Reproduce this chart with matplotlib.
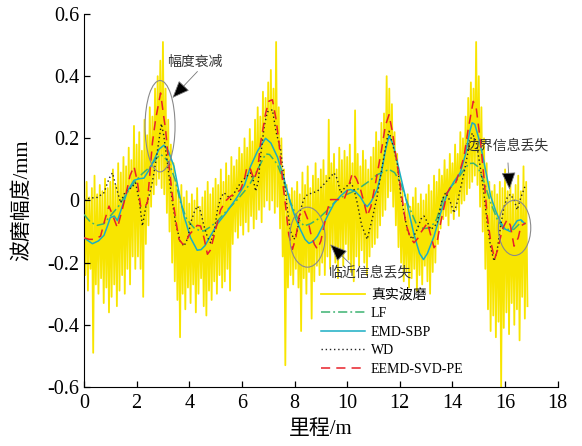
import matplotlib
matplotlib.use("Agg")
import matplotlib.pyplot as plt
from matplotlib.patches import Ellipse
import numpy as np

# true corrugation: upper / lower sample excursions read every 0.1 m
dist = np.round(np.arange(0, 16.81, 0.1), 2)
true_hi = [0.03, 0.06, 0.01, 0.04, 0.08, 0.02, 0.05, 0.03, 0.07, 0.04,
           0.06, 0.10, 0.05, 0.12, 0.09, 0.14, 0.11, 0.17, 0.13, 0.24,
           0.18, 0.22, 0.16, 0.26, 0.21, 0.30, 0.27, 0.36, 0.40, 0.45,
           0.51, 0.36, 0.26, 0.18, 0.12, 0.07, 0.03, 0.05, 0.01, 0.03,
           -0.01, 0.02, 0.00, 0.04, -0.02, 0.01, 0.03, 0.06, 0.02, 0.04,
           0.07, 0.05, 0.10, 0.06, 0.12, 0.08, 0.14, 0.11, 0.13, 0.17,
           0.15, 0.20, 0.17, 0.23, 0.19, 0.26, 0.30, 0.27, 0.35, 0.33,
           0.38, 0.42, 0.36, 0.51, 0.30, 0.20, 0.10, 0.05, 0.02, 0.04,
           0.03, 0.06, 0.02, 0.09, 0.05, 0.11, 0.04, 0.08, 0.12, 0.07,
           0.10, 0.13, 0.08, 0.26, 0.12, 0.15, 0.10, 0.17, 0.13, 0.16,
           0.14, 0.18, 0.12, 0.29, 0.15, 0.11, 0.16, 0.13, 0.10, 0.14,
           0.17, 0.22, 0.19, 0.25, 0.28, 0.40, 0.36, 0.31, 0.22, 0.15,
           0.08, 0.03, -0.01, 0.02, -0.02, 0.01, 0.04, -0.01, 0.02, 0.00,
           0.02, 0.05, 0.03, 0.08, 0.06, 0.10, 0.08, 0.13, 0.10, 0.15,
           0.12, 0.18, 0.15, 0.22, 0.20, 0.27, 0.33, 0.38, 0.36, 0.51,
           0.40, 0.30, 0.20, 0.12, 0.06, 0.03, 0.05, 0.02, 0.06, 0.04,
           0.10, 0.03, 0.06, 0.02, 0.05, 0.08, 0.03, 0.11, 0.06]
true_lo = [-0.24, -0.29, -0.22, -0.49, -0.27, -0.30, -0.25, -0.33, -0.28, -0.36,
           -0.31, -0.27, -0.34, -0.29, -0.24, -0.30, -0.22, -0.27, -0.18, -0.22,
           -0.18, -0.22, -0.31, -0.14, -0.08, -0.02, 0.02, 0.05, 0.07, 0.04,
           0.02, -0.04, -0.10, -0.20, -0.26, -0.32, -0.44, -0.30, -0.35, -0.28,
           -0.33, -0.27, -0.36, -0.30, -0.25, -0.34, -0.37, -0.29, -0.32, -0.26,
           -0.30, -0.24, -0.28, -0.26, -0.22, -0.29, -0.14, -0.10, -0.12, -0.08,
           -0.11, -0.07, -0.10, -0.05, -0.09, -0.06, -0.03, -0.07, -0.02, 0.00,
           -0.03, 0.00, -0.04, -0.02, -0.09, -0.18, -0.53, -0.28, -0.24, -0.27,
           -0.22, -0.28, -0.42, -0.25, -0.30, -0.23, -0.38, -0.26, -0.21, -0.24,
           -0.20, -0.24, -0.18, -0.22, -0.15, -0.20, -0.25, -0.17, -0.21, -0.14,
           -0.19, -0.23, -0.26, -0.18, -0.21, -0.16, -0.20, -0.24, -0.18, -0.15,
           -0.14, -0.12, -0.08, -0.05, -0.03, 0.01, 0.03, -0.02, -0.08, -0.15,
           -0.20, -0.26, -0.23, -0.28, -0.25, -0.22, -0.29, -0.24, -0.27, -0.21,
           -0.26, -0.30, -0.23, -0.20, -0.14, -0.09, -0.06, -0.05, -0.08, -0.04,
           -0.06, -0.03, -0.05, -0.01, 0.00, 0.02, 0.04, 0.06, 0.08, 0.05,
           -0.02, -0.10, -0.22, -0.35, -0.42, -0.37, -0.44, -0.39, -0.60, -0.41,
           -0.36, -0.43, -0.33, -0.40, -0.35, -0.45, -0.31, -0.38, -0.34]

lf_x = [0.0, 0.25, 0.5, 0.75, 1.0, 1.3, 1.6, 1.9, 2.2, 2.53, 2.75, 2.91, 3.05, 3.23, 3.45,
        3.67, 3.9, 4.18, 4.4, 4.56, 4.8, 5.07, 5.4, 5.83, 6.1, 6.33, 6.6, 6.9, 7.05, 7.35,
        7.6, 7.85, 8.1, 8.36, 8.6, 8.87, 9.2, 9.62, 10.0, 10.38, 10.8, 11.14, 11.59, 11.8,
        12.03, 12.3, 12.66, 12.9, 13.17, 13.4, 13.68, 13.95, 14.18, 14.4, 14.63, 14.8,
        14.95, 15.2, 15.45, 15.7, 15.96, 16.33, 16.72]
lf_y = [-0.045, -0.07, -0.08, -0.075, -0.05, -0.02, 0.02, 0.057, 0.085, 0.11, 0.135, 0.148,
        0.14, 0.121, 0.07, -0.007, -0.06, -0.088, -0.097, -0.098, -0.085, -0.066, -0.035,
        0.003, 0.03, 0.057, 0.1, 0.15, 0.148, 0.116, 0.06, -0.007, -0.055, -0.082, -0.075,
        -0.061, -0.035, 0.003, 0.02, 0.035, 0.06, 0.083, 0.1, 0.09, 0.057, -0.01, -0.082,
        -0.09, -0.088, -0.06, 0.014, 0.045, 0.067, 0.095, 0.119, 0.12, 0.11, 0.06, -0.007,
        -0.06, -0.093, -0.093, -0.061]

emd_x = [0.0, 0.32, 0.55, 0.76, 0.9, 1.0, 1.15, 1.27, 1.45, 1.65, 1.9, 2.1, 2.28, 2.45, 2.66,
         2.85, 3.04, 3.2, 3.42, 3.6, 3.8, 4.05, 4.3, 4.45, 4.6, 4.8, 5.07, 5.4, 5.83, 6.1,
         6.33, 6.6, 6.9, 7.1, 7.35, 7.6, 7.85, 8.05, 8.23, 8.4, 8.55, 8.7, 8.87, 9.05, 9.25,
         9.5, 9.75, 10.0, 10.13, 10.3, 10.5, 10.65, 10.76, 10.9, 11.14, 11.3, 11.45, 11.59,
         11.75, 12.03, 12.3, 12.54, 12.75, 12.9, 13.05, 13.3, 13.55, 13.8, 14.05, 14.3, 14.5,
         14.65, 14.75, 14.85, 15.0, 15.13, 15.3, 15.45, 15.65, 15.83, 16.0, 16.2, 16.3,
         16.46, 16.6, 16.75]
emd_y = [-0.12, -0.139, -0.13, -0.112, -0.08, -0.055, -0.05, -0.065, -0.02, 0.03, 0.065,
         0.07, 0.072, 0.095, 0.13, 0.165, 0.178, 0.16, 0.11, 0.03, -0.05, -0.12, -0.16,
         -0.158, -0.145, -0.115, -0.075, -0.04, 0.012, 0.05, 0.11, 0.16, 0.2, 0.185, 0.14,
         0.07, -0.01, -0.06, -0.095, -0.125, -0.138, -0.132, -0.115, -0.085, -0.05, -0.01,
         0.015, 0.033, 0.035, 0.03, 0.012, -0.01, -0.02, -0.005, 0.035, 0.09, 0.16, 0.208,
         0.18, 0.078, -0.02, -0.11, -0.17, -0.19, -0.17, -0.115, -0.04, 0.022, 0.06, 0.09,
         0.15, 0.22, 0.25, 0.245, 0.2, 0.152, 0.08, 0.014, -0.035, -0.07, -0.092, -0.1,
         -0.085, -0.065, -0.062, -0.075]

wd_x = [0.0, 0.25, 0.51, 0.76, 0.95, 1.08, 1.2, 1.39, 1.52, 1.65, 1.8, 1.96, 2.1, 2.22, 2.35,
        2.47, 2.6, 2.72, 2.86, 2.94, 3.03, 3.17, 3.3, 3.48, 3.65, 3.8, 3.95, 4.05, 4.2, 4.31,
        4.43, 4.56, 4.7, 4.81, 4.95, 5.07, 5.2, 5.32, 5.45, 5.57, 5.75, 5.95, 6.15, 6.33,
        6.45, 6.52, 6.62, 6.71, 6.85, 6.97, 7.16, 7.3, 7.47, 7.6, 7.73, 7.85, 7.98, 8.1,
        8.23, 8.35, 8.49, 8.7, 8.87, 9.2, 9.5, 9.62, 9.75, 9.9, 10.13, 10.25, 10.38, 10.55,
        10.76, 10.95, 11.14, 11.35, 11.52, 11.59, 11.7, 11.9, 12.03, 12.16, 12.3, 12.47,
        12.66, 12.8, 12.92, 13.05, 13.17, 13.3, 13.42, 13.6, 13.74, 13.9, 14.06, 14.2,
        14.44, 14.6, 14.75, 14.9, 15.07, 15.2, 15.32, 15.45, 15.58, 15.7, 15.83, 15.96,
        16.08, 16.2, 16.35, 16.46, 16.6, 16.78]
wd_y = [0.003, 0.008, 0.01, 0.025, 0.07, 0.089, 0.05, -0.007, 0.02, 0.035, 0.04, 0.057, 0.0,
        -0.082, -0.02, 0.014, 0.06, 0.12, 0.2, 0.247, 0.21, 0.121, 0.03, -0.072, -0.13,
        -0.147, -0.12, -0.072, -0.035, -0.018, -0.035, -0.082, -0.12, -0.136, -0.1, -0.03,
        0.01, 0.025, 0.015, 0.003, 0.03, 0.057, 0.075, 0.089, 0.06, 0.03, 0.06, 0.142, 0.24,
        0.285, 0.292, 0.22, 0.164, 0.07, -0.03, -0.1, -0.125, -0.1, -0.03, 0.005, 0.019,
        0.025, 0.03, 0.06, 0.089, 0.07, 0.025, 0.04, 0.057, 0.04, -0.007, -0.08, -0.125,
        -0.06, 0.014, 0.12, 0.2, 0.223, 0.19, 0.12, 0.02, -0.04, -0.1, -0.125, -0.093,
        -0.06, -0.05, -0.07, -0.093, -0.085, -0.072, 0.0, 0.025, 0.0, -0.04, 0.0, 0.089,
        0.16, 0.217, 0.19, 0.1, 0.02, -0.072, -0.15, -0.195, -0.16, -0.082, -0.02, 0.009,
        0.02, 0.0, -0.03, 0.01, 0.051]

ee_x = [0.0, 0.2, 0.38, 0.63, 0.8, 0.95, 1.1, 1.27, 1.42, 1.58, 1.75, 1.9, 2.03, 2.15, 2.28,
        2.41, 2.6, 2.72, 2.91, 3.03, 3.1, 3.22, 3.36, 3.5, 3.61, 3.75, 3.86, 4.0, 4.18, 4.3,
        4.43, 4.56, 4.69, 4.8, 4.94, 5.19, 5.4, 5.57, 5.8, 5.95, 6.1, 6.2, 6.33, 6.46, 6.6,
        6.71, 6.9, 7.03, 7.16, 7.3, 7.41, 7.55, 7.66, 7.78, 7.92, 8.05, 8.17, 8.36, 8.5,
        8.61, 8.75, 8.87, 9.0, 9.12, 9.25, 9.37, 9.62, 9.88, 10.0, 10.2, 10.35, 10.51,
        10.65, 10.76, 10.9, 11.08, 11.3, 11.45, 11.59, 11.72, 11.91, 12.1, 12.22, 12.4,
        12.54, 12.7, 12.79, 13.05, 13.17, 13.3, 13.4, 13.55, 13.8, 13.95, 14.12, 14.3,
        14.44, 14.6, 14.79, 14.9, 15.07, 15.2, 15.32, 15.45, 15.6, 15.75, 15.89, 16.08,
        16.2, 16.34, 16.5, 16.6, 16.78]
ee_y = [-0.12, -0.125, -0.125, -0.115, -0.06, -0.018, -0.05, -0.088, -0.04, 0.014, 0.08,
        0.11, 0.06, -0.018, -0.025, -0.007, 0.185, 0.26, 0.346, 0.27, 0.228, 0.12, 0.014,
        -0.07, -0.125, -0.14, -0.136, -0.11, -0.093, -0.08, -0.082, -0.12, -0.173, -0.16,
        -0.115, -0.03, 0.0, 0.014, 0.025, 0.035, 0.07, 0.11, 0.1, 0.067, 0.1, 0.185, 0.28,
        0.32, 0.324, 0.26, 0.185, 0.06, -0.018, -0.11, -0.157, -0.12, -0.05, -0.03, -0.06,
        -0.104, -0.14, -0.157, -0.13, -0.082, -0.03, 0.003, 0.003, 0.003, 0.03, 0.089, 0.07,
        0.035, -0.01, -0.05, -0.02, 0.057, 0.16, 0.24, 0.276, 0.22, 0.11, 0.0, -0.072,
        -0.12, -0.136, -0.12, -0.104, -0.072, -0.11, -0.152, -0.14, -0.072, 0.025, 0.045,
        0.057, 0.1, 0.142, 0.23, 0.319, 0.3, 0.185, 0.07, -0.05, -0.13, -0.189, -0.15,
        -0.093, -0.061, -0.08, -0.147, -0.12, -0.082, -0.072]

labels = ['真实波磨', 'LF', 'EMD-SBP', 'WD', 'EEMD-SVD-PE']
xticks = [0, 2, 4, 6, 8, 10, 12, 14, 16, 18]
yticks = [-0.6, -0.4, -0.2, 0, 0.2, 0.4, 0.6]
ytick_labels = ['-0.6', '-0.4', '-0.2', '0', '0.2', '0.4', '0.6']

serif_cjk = ['Liberation Serif', 'Noto Sans CJK SC']
plt.rcParams['font.family'] = serif_cjk

fig = plt.figure(figsize=(5.82, 4.46), dpi=100)
ax = fig.add_axes([0.1443, 0.1323, 0.814, 0.8363])

# interleave peaks and troughs of the measured signal
yel_x = np.ravel(np.column_stack([dist, dist + 0.05]))
yel_y = np.ravel(np.column_stack([true_hi, true_lo]))

l_true, = ax.plot(yel_x, yel_y, color='#f8e500', lw=1.3, zorder=1)
l_lf, = ax.plot(lf_x, lf_y, color='#3cb371', lw=1.1, ls=(0, (6, 2, 1.2, 2)), zorder=3)
l_emd, = ax.plot(emd_x, emd_y, color='#1aaec4', lw=1.1, zorder=4)
l_wd, = ax.plot(wd_x, wd_y, color='#222222', lw=1.0, ls=(0, (1, 2)), zorder=5)
l_ee, = ax.plot(ee_x, ee_y, color='#e8202a', lw=1.1, ls=(0, (6, 4)), zorder=6)

# annotations
for cx, cy, w, h in [(2.89, 0.239, 1.14, 0.294), (8.49, -0.118, 1.34, 0.193),
                     (16.36, -0.088, 1.23, 0.178)]:
    ax.add_patch(Ellipse((cx, cy), w, h, fill=False, ec='#8a8a8a', lw=0.8, zorder=7))

arrow = dict(arrowstyle='-|>,head_length=1.1,head_width=0.45', ec='#777777',
             fc='black', lw=0.6, shrinkA=0, shrinkB=0)
ax.annotate('', xy=(3.36, 0.33), xytext=(4.31, 0.415), arrowprops=arrow, zorder=8)
ax.annotate('', xy=(9.35, -0.141), xytext=(10.13, -0.205), arrowprops=arrow, zorder=8)
ax.annotate('', xy=(16.17, 0.035), xytext=(16.11, 0.121), arrowprops=arrow, zorder=8)
ax.text(3.15, 0.446, '幅度衰减', fontsize=10, color='#333333', ha='left', va='center',
        family=['Noto Sans CJK SC'])
ax.text(9.31, -0.232, '临近信息丢失', fontsize=10, color='#333333', ha='left', va='center',
        family=['Noto Sans CJK SC'])
ax.text(14.5, 0.177, '边界信息丢失', fontsize=10, color='#333333', ha='left', va='center',
        family=['Noto Sans CJK SC'])

ax.set_xlim(0, 18)
ax.set_ylim(-0.6, 0.6)
ax.set_xticks(xticks)
ax.set_yticks(yticks)
ax.set_yticklabels(ytick_labels)
ax.tick_params(direction='in', length=4.5, width=0.9, labelsize=14.5)
ax.tick_params(axis='x', pad=5)
ax.spines['top'].set_visible(False)
ax.spines['right'].set_visible(False)

ax.set_xlabel('里程/m', fontsize=15)
ax.set_ylabel('波磨幅度/mm', fontsize=15)
ax.xaxis.set_label_coords(0.5, -0.088)
ax.yaxis.set_label_coords(-0.11, 0.5)

ax.legend((l_true, l_lf, l_emd, l_wd, l_ee), labels, loc='upper left',
          bbox_to_anchor=(0.50, 0.265), frameon=False, fontsize=10, handlelength=3.2,
          handletextpad=0.4, labelspacing=0.4, borderpad=0, borderaxespad=0)

fig.savefig('out.png', dpi=100)
